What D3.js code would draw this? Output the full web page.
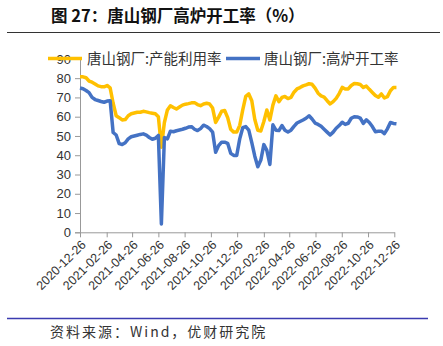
<!DOCTYPE html>
<html><head><meta charset="utf-8">
<script src="https://cdn.jsdelivr.net/npm/d3@7"></script>
<style>body{margin:0;background:#fff}svg{display:block}</style>
</head><body>
<script>
// ---- data ----
const startDate = "2020-12-26";
const capacityUtil = [80.7,80.7,80.2,78.5,77.9,77.0,76.0,75.6,75.5,76.2,75.0,67.0,60.5,59.5,58.3,58.5,60.5,61.5,61.9,62.3,
62.3,62.8,62.5,62.1,61.8,61.5,60.0,44.2,57.0,63.5,65.7,64.8,64.0,65.0,66.0,66.5,66.8,67.2,67.3,66.3,
65.7,66.6,67.0,66.6,64.5,57.0,59.8,62.8,63.2,59.5,53.5,52.0,52.0,55.5,63.5,70.5,71.8,68.3,58.5,53.0,
52.6,57.5,63.5,58.3,66.0,70.8,67.8,70.0,70.5,69.4,70.0,72.7,74.4,75.1,76.0,76.5,77.1,76.8,74.8,72.2,
70.8,70.2,68.3,66.6,67.8,69.5,72.0,75.2,74.4,74.4,76.2,77.2,77.1,76.7,75.2,75.9,74.2,72.6,71.0,70.1,
71.8,69.7,70.4,73.5,75.2,75.2];
const furnaceRate = [74.9,74.5,73.6,72.5,70.0,68.9,68.4,67.9,67.5,68.1,68.3,51.8,50.5,46.0,45.6,46.5,48.5,49.6,50.0,50.4,
50.8,51.1,50.4,49.2,48.3,48.8,50.3,4.3,49.2,48.5,52.5,52.2,52.7,53.1,53.5,54.0,54.6,54.8,53.5,52.8,
53.8,55.6,54.9,53.8,52.0,41.5,45.0,46.8,46.8,46.2,41.0,39.9,39.9,48.5,54.3,54.9,53.0,46.5,39.5,34.0,
37.5,45.5,42.5,35.2,55.8,53.0,52.8,55.4,53.0,52.1,53.0,55.0,56.7,57.5,58.3,59.2,60.5,58.8,56.7,56.0,
55.0,53.5,52.0,50.5,52.0,54.0,55.4,57.1,56.0,56.6,59.2,60.0,59.9,59.3,56.5,58.4,57.0,54.9,52.2,52.4,
52.5,51.2,53.7,57.0,56.5,56.3];
const seriesNames = ["唐山钢厂:产能利用率","唐山钢厂:高炉开工率"];
const xTickLabels = ["2020-12-26","2021-02-26","2021-04-26","2021-06-26","2021-08-26","2021-10-26","2021-12-26",
"2022-02-26","2022-04-26","2022-06-26","2022-08-26","2022-10-26","2022-12-26"];
const yTicks = [0,10,20,30,40,50,60,70,80,90];
const titleText = "图 27：唐山钢厂高炉开工率（%）";
const sourceText = "资料来源：Wind，优财研究院";

// ---- build ----
const W = 443, H = 346;
const parse = d3.utcParse("%Y-%m-%d");
const t0 = parse(startDate);
const dates = capacityUtil.map((_, i) => d3.utcDay.offset(t0, 7 * i));

const svg = d3.select("body").append("svg").attr("width", W).attr("height", H);
const CJK = "'Noto Sans CJK SC','Noto Sans',sans-serif";

const x = d3.scaleUtc().domain([parse(xTickLabels[0]), parse(xTickLabels[xTickLabels.length-1])]).range([80, 394.3]);
const y = d3.scaleLinear().domain([0, 90]).range([232.3, 58.9]);

// title
svg.append("text").attr("x", 51).attr("y", 22).attr("font-family", CJK).attr("font-size", 16.5)
  .attr("font-weight", "bold").attr("fill", "#111").text(titleText);
svg.append("line").attr("x1", 7).attr("x2", 440).attr("y1", 32.5).attr("y2", 32.5)
  .attr("stroke", "#333").attr("stroke-width", 1.2);

// y axis
const yAxis = svg.append("g").attr("transform", "translate(80,0)")
  .call(d3.axisLeft(y).tickValues(yTicks).tickSize(5).tickPadding(4).tickFormat(d3.format("d")));
yAxis.select(".domain").attr("stroke", "#999");
yAxis.selectAll(".tick line").attr("stroke", "#999");
yAxis.selectAll("text").attr("font-family", "'Liberation Sans',Arial,sans-serif").attr("font-size", 13).attr("fill", "#333");

// x axis
const xAxis = svg.append("g").attr("transform", "translate(0,232.3)")
  .call(d3.axisBottom(x).tickValues(xTickLabels.map(parse)).tickSize(5).tickSizeOuter(0)
    .tickFormat(d3.utcFormat("%Y-%m-%d")));
xAxis.select(".domain").attr("stroke", "#999");
xAxis.selectAll(".tick line").attr("stroke", "#999");
xAxis.selectAll("text").attr("font-family", "'Liberation Sans',Arial,sans-serif").attr("font-size", 12.5)
  .attr("fill", "#333").attr("text-anchor", "end")
  .attr("transform", "rotate(-45)").attr("dx", "-0.4em").attr("dy", "0.45em");

// lines
const colors = ["#FFC000", "#4472C4"];
const allSeries = [capacityUtil, furnaceRate];
const line = d3.line().x((d, i) => x(dates[i])).y(d => y(d));
allSeries.forEach((s, k) => {
  svg.append("path").datum(s).attr("d", line).attr("fill", "none")
    .attr("stroke", colors[k]).attr("stroke-width", 3.5).attr("stroke-linejoin", "round");
});

// legend
const legendItems = [{x: 48, tx: 87}, {x: 226, tx: 264}];
legendItems.forEach((p, k) => {
  svg.append("line").attr("x1", p.x).attr("x2", p.x + 34).attr("y1", 58.5).attr("y2", 58.5)
    .attr("stroke", colors[k]).attr("stroke-width", 3.5);
  svg.append("text").attr("x", p.tx).attr("y", 63.5).attr("font-family", CJK).attr("font-size", 14.5)
    .attr("fill", "#333").text(seriesNames[k]);
});

// footer
svg.append("line").attr("x1", 7).attr("x2", 428).attr("y1", 318.5).attr("y2", 318.5)
  .attr("stroke", "#3b3bb0").attr("stroke-width", 1.3);
svg.append("text").attr("x", 50).attr("y", 337).attr("font-family", CJK).attr("font-size", 14)
  .attr("letter-spacing", 2).attr("fill", "#333").text(sourceText);
</script>
</body></html>
